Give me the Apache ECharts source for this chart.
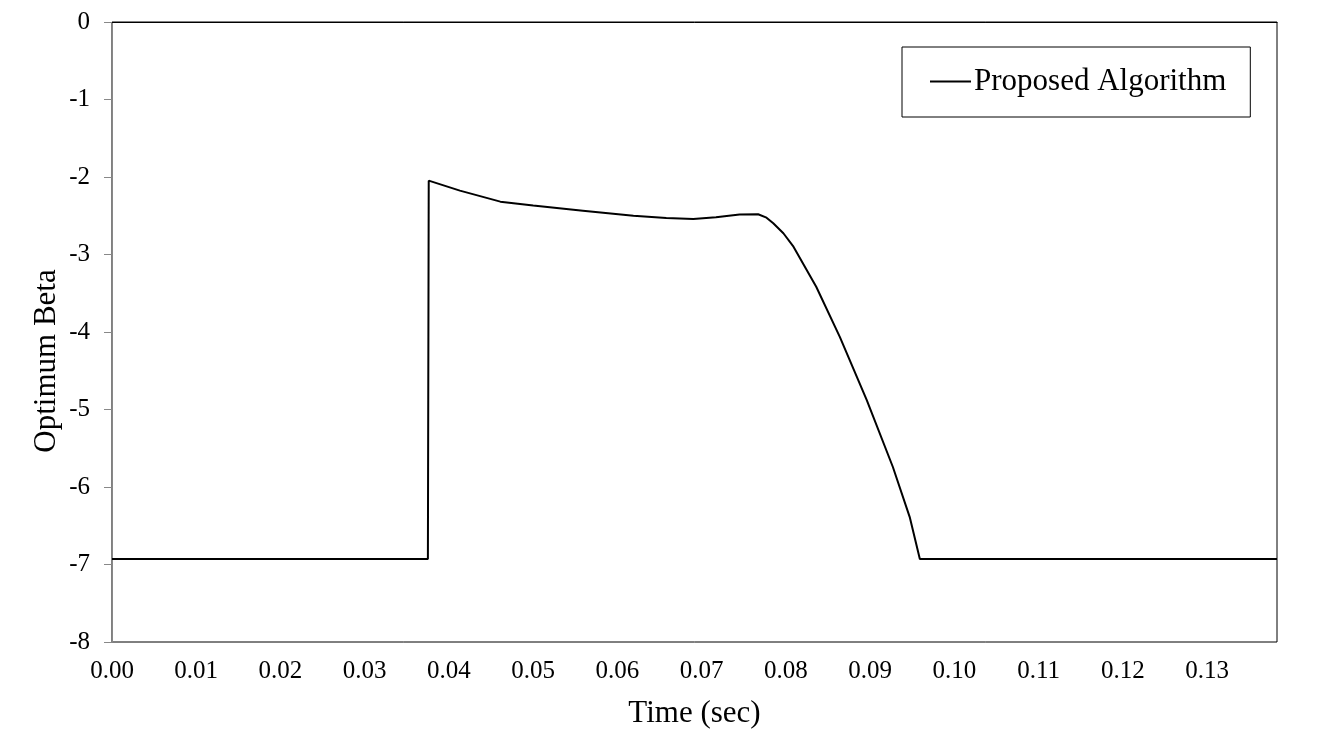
<!DOCTYPE html>
<html>
<head>
<meta charset="utf-8">
<script src="https://cdn.jsdelivr.net/npm/echarts@6/dist/echarts.min.js"></script>
<style>html,body{margin:0;padding:0;background:#fff;}#c{width:1324px;height:750px;}</style>
</head>
<body>
<div id="c"></div>
<script>
var seriesName = 'Proposed Algorithm';
var timeSec = [0.0000, 0.0375, 0.0376, 0.0413, 0.0461, 0.0500, 0.0559, 0.0619, 0.0658, 0.0690, 0.0717, 0.0745, 0.0767, 0.0777, 0.0785, 0.0797, 0.0809, 0.0836, 0.0864, 0.0896, 0.0927, 0.0947, 0.0959, 0.1383];
var beta = [-6.93, -6.93, -2.047, -2.176, -2.318, -2.369, -2.434, -2.499, -2.528, -2.541, -2.52, -2.485, -2.481, -2.525, -2.597, -2.726, -2.899, -3.416, -4.062, -4.88, -5.742, -6.388, -6.93, -6.93];
var xMin = 0, xMax = 0.1383, xStep = 0.01;
var yMin = -8, yMax = 0, yStep = 1;

var data = timeSec.map(function (t, i) { return [t, beta[i]]; });
var font = 'Liberation Serif';
var chart = echarts.init(document.getElementById('c'));
chart.setOption({
  animation: false,
  backgroundColor: '#fff',
  grid: { left: 112, right: 47, top: 22, bottom: 108, show: true, borderColor: '#000', borderWidth: 1 },
  legend: {
    show: true, left: 902, top: 47, orient: 'vertical',
    borderColor: '#000', borderWidth: 1, padding: [19, 24, 20, 28],
    itemWidth: 41, itemHeight: 2, itemGap: 0,
    icon: 'rect',
    textStyle: { fontFamily: font, fontSize: 31, color: '#000', padding: [0, 0, 0, -2] },
    data: [{ name: seriesName, icon: 'rect', itemStyle: { color: '#000' } }]
  },
  xAxis: {
    type: 'value', min: xMin, max: xMax, interval: xStep,
    name: 'Time (sec)', nameLocation: 'middle', nameGap: 56,
    nameTextStyle: { fontFamily: font, fontSize: 31, color: '#000' },
    axisLine: { show: true, lineStyle: { color: '#000', width: 1 } },
    axisTick: { show: false },
    splitLine: { show: false },
    axisLabel: { fontFamily: font, fontSize: 25, color: '#000', margin: 17, showMaxLabel: false,
      formatter: function (v) { return v.toFixed(2); } }
  },
  yAxis: {
    type: 'value', min: yMin, max: yMax, interval: yStep,
    name: 'Optimum Beta', nameLocation: 'middle', nameGap: 50, nameRotate: 90, nameMoveOverlap: false,
    nameTextStyle: { fontFamily: font, fontSize: 31, color: '#000', padding: [0, 58, 0, 0] },
    axisLine: { show: true, lineStyle: { color: '#888', width: 1 } },
    axisTick: { show: true, length: 8, inside: false, lineStyle: { color: '#888' } },
    splitLine: { show: false },
    axisLabel: { fontFamily: font, fontSize: 25, color: '#000', margin: 22 }
  },
  series: [{
    name: seriesName, type: 'line', data: data, smooth: false, showSymbol: false,
    lineStyle: { color: '#000', width: 2 }, itemStyle: { color: '#000' }
  }]
});
</script>
</body>
</html>
